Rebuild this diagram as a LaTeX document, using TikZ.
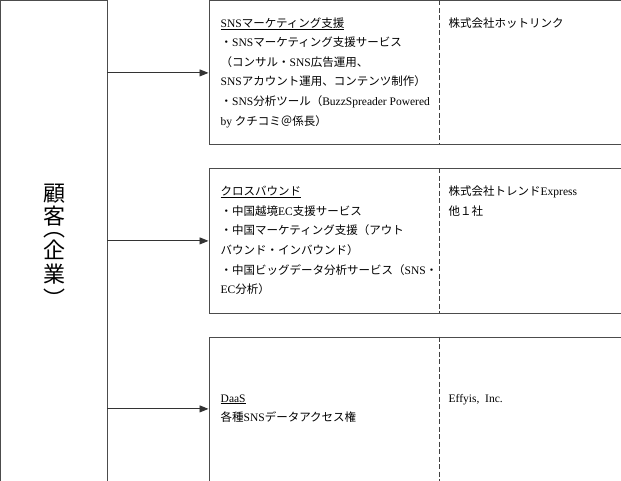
\documentclass[tikz,border=0pt]{standalone}
\usepackage{fontspec}
\setmainfont{Noto Sans CJK JP}
\newfontfamily\lat{Liberation Serif}
\usetikzlibrary{arrows.meta,positioning}

\newcommand{\en}[1]{{\lat #1}}

\begin{document}
\begin{tikzpicture}[
    x = 1pt,
    y = 1pt
  ]
  \tikzstyle{block} = [
    draw = black!70, rectangle,
    line width     = 0.8pt,
    inner sep      = 0pt,
    anchor         = north west,
    minimum width  = 412pt,
    minimum height = 144pt
  ]
  \tikzstyle{client} = [
    draw = black!70, rectangle,
    line width     = 0.8pt,
    anchor         = north west,
    minimum width  = 106pt,
    minimum height = 480pt
  ]
  \tikzstyle{vchar}  = [
    inner sep = 0pt,
    on grid,
    font      = \fontsize{22pt}{22pt}\selectfont
  ]
  \tikzstyle{desc}   = [
    align     = left,
    anchor    = west,
    inner sep = 0pt,
    font      = \fontsize{11.5pt}{19.6pt}\selectfont
  ]
  \tikzstyle{firm}   = [desc, anchor = north west]
  \tikzstyle{arrow}  = [draw = black!80, line width = 0.9pt,
                        -{Triangle[length=9pt,width=7pt]}]
  \tikzstyle{divider} = [draw = black!75, line width = 1pt,
                         dash pattern = on 5pt off 2.5pt]

  \useasboundingbox (-0.5,0.5) rectangle (620.5,-480.5);

  \node [client] at (0,0) (customer) {};
  % vertical label
  \node [vchar] at (53.5,-193)                   (kao)    {顧};
  \node [vchar, below = 23pt of kao]             (kyaku)  {客};
  \node [vchar, below = 19pt of kyaku]           (lparen) {︵};
  \node [vchar, below = 14pt of lparen]          (ki)     {企};
  \node [vchar, below = 25pt of ki]              (gyo)    {業};
  \node [vchar, below = 17pt of gyo, rotate = 180] (rparen) {︵};

  \node [block] at (208,0)    (sns)   {};
  \node [block] at (208,-168) (cross) {};
  \node [block] at (208,-336) (daas)  {};

  % dashed separators
  \coordinate (snstop)     at (439,0);
  \coordinate (snsbot)     at (439,-144);
  \coordinate (crosstop)   at (439,-168);
  \coordinate (crossbot)   at (439,-312);
  \coordinate (daastop)    at (439,-336);
  \coordinate (daasbot)    at (439,-480);
  \path [divider] (snstop)   -- (snsbot);
  \path [divider] (crosstop) -- (crossbot);
  \path [divider] (daastop)  -- (daasbot);

  \path [arrow] (sns.west -| customer.east)   -- (sns.west);
  \path [arrow] (cross.west -| customer.east) -- (cross.west);
  \path [arrow] (daas.west -| customer.east)  -- (daas.west);

  \node [desc] at (220,-72) (snsdesc)
        {\underline{\en{SNS}マーケティング支援}\\
         ・\en{SNS}マーケティング支援サービス\\
         （コンサル・\en{SNS}広告運用、\\
         \en{SNS}アカウント運用、コンテンツ制作）\\
         ・\en{SNS}分析ツール（\en{BuzzSpreader Powered}\\
         \en{by} クチコミ＠係長）};
  \node [desc] at (220,-240) (crossdesc)
        {\underline{クロスバウンド}\\
         ・中国越境\en{EC}支援サービス\\
         ・中国マーケティング支援（アウト\\
         バウンド・インバウンド）\\
         ・中国ビッグデータ分析サービス（\en{SNS}・\\
         \en{EC}分析）};
  \node [desc] at (220,-408) (daasdesc)
        {\underline{\en{DaaS}}\\
         各種\en{SNS}データアクセス権};

  \node [firm] at ([xshift=9pt]snstop |- snsdesc.north)     (snsfirm)
        {株式会社ホットリンク};
  \node [firm] at ([xshift=9pt]crosstop |- crossdesc.north) (crossfirm)
        {株式会社トレンド\en{Express}\\他１社};
  \node [firm] at ([xshift=9pt]daastop |- daasdesc.north)   (daasfirm)
        {\en{Effyis,\ \ Inc.}};
\end{tikzpicture}
\end{document}
